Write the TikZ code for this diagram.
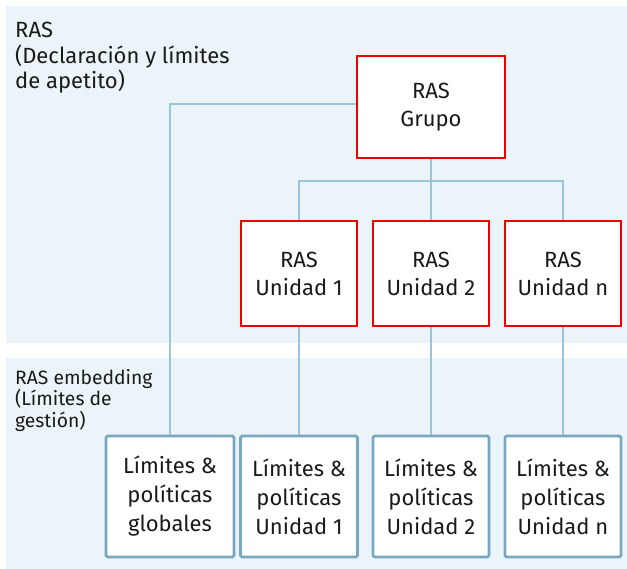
\documentclass[tikz,border=0pt]{standalone}
\usepackage{fontspec}
\setmainfont{Fira Sans}
\usepackage{tikz}
\usetikzlibrary{positioning}
\definecolor{panelbg}{HTML}{EBF4F8}
\definecolor{linkblue}{HTML}{9BC4D6}
\definecolor{rasred}{HTML}{EC0000}
\definecolor{limblue}{HTML}{7AA7C0}
\definecolor{txt}{HTML}{1A1A1A}

\begin{document}
\begin{tikzpicture}[x=1pt, y=-1pt,
      ras/.style={draw=rasred, fill=white, line width=2.6pt, align=center,
                  minimum width=116pt, minimum height=105pt,
                  font=\fontsize{22}{28}\selectfont, text=txt},
      lim/.style={draw=limblue, fill=white, line width=2.6pt, rounded corners=1.5pt,
                  align=center, minimum width=116pt, minimum height=121pt,
                  font=\fontsize{22}{29}\selectfont, text=txt},
      lbl/.style={anchor=north west, align=left, inner sep=0pt, text=txt},
      link/.style={draw=linkblue, line width=2.6pt}]
    \useasboundingbox (0,0) rectangle (627,569);
    % bands
    \fill[panelbg] (6,6) rectangle (627,343);
    \fill[panelbg] (6,358) rectangle (627,569);
    \node[lbl, font=\fontsize{22}{25.5}\selectfont] (toplbl) at (15,22)
      {RAS\\(Declaración y límites\\de apetito)};
    \node[lbl, font=\fontsize{19.3}{21.5}\selectfont] (botlbl) at (15,369)
      {RAS embedding\\(Límites de\\gestión)};
    % RAS boxes
    \node[ras, minimum width=148pt, minimum height=102pt] (grupo) at (431,107) {RAS\\Grupo};
    \node[ras] (uni1) at (299,273.5) {RAS\\Unidad 1};
    \node[ras] (uni2) at (431,273.5) {RAS\\Unidad 2};
    \node[ras] (unin) at (563,273.5) {RAS\\Unidad n};
    % limit boxes
    \node[lim, minimum width=128pt] (limg) at (170,496.5) {Límites \&\\políticas\\globales};
    \node[lim, minimum width=117pt] (lim1) at (299,496.5) {Límites \&\\políticas\\Unidad 1};
    \node[lim] (lim2) at (431,496.5) {Límites \&\\políticas\\Unidad 2};
    \node[lim] (limn) at (563,496.5) {Límites \&\\políticas\\Unidad n};
    % connectors
    \coordinate (bus) at (431,181);
    \draw[link] ([yshift=3pt]grupo.west) -| (limg.north);
    \draw[link] (grupo.south) -- (bus);
    \draw[link] (uni1.north) |- (bus) -| (unin.north);
    \draw[link] (bus) -- (uni2.north);
    \draw[link] (uni1.south) -- (lim1.north);
    \draw[link] (uni2.south) -- (lim2.north);
    \draw[link] (unin.south) -- (limn.north);
  \end{tikzpicture}
\end{document}
